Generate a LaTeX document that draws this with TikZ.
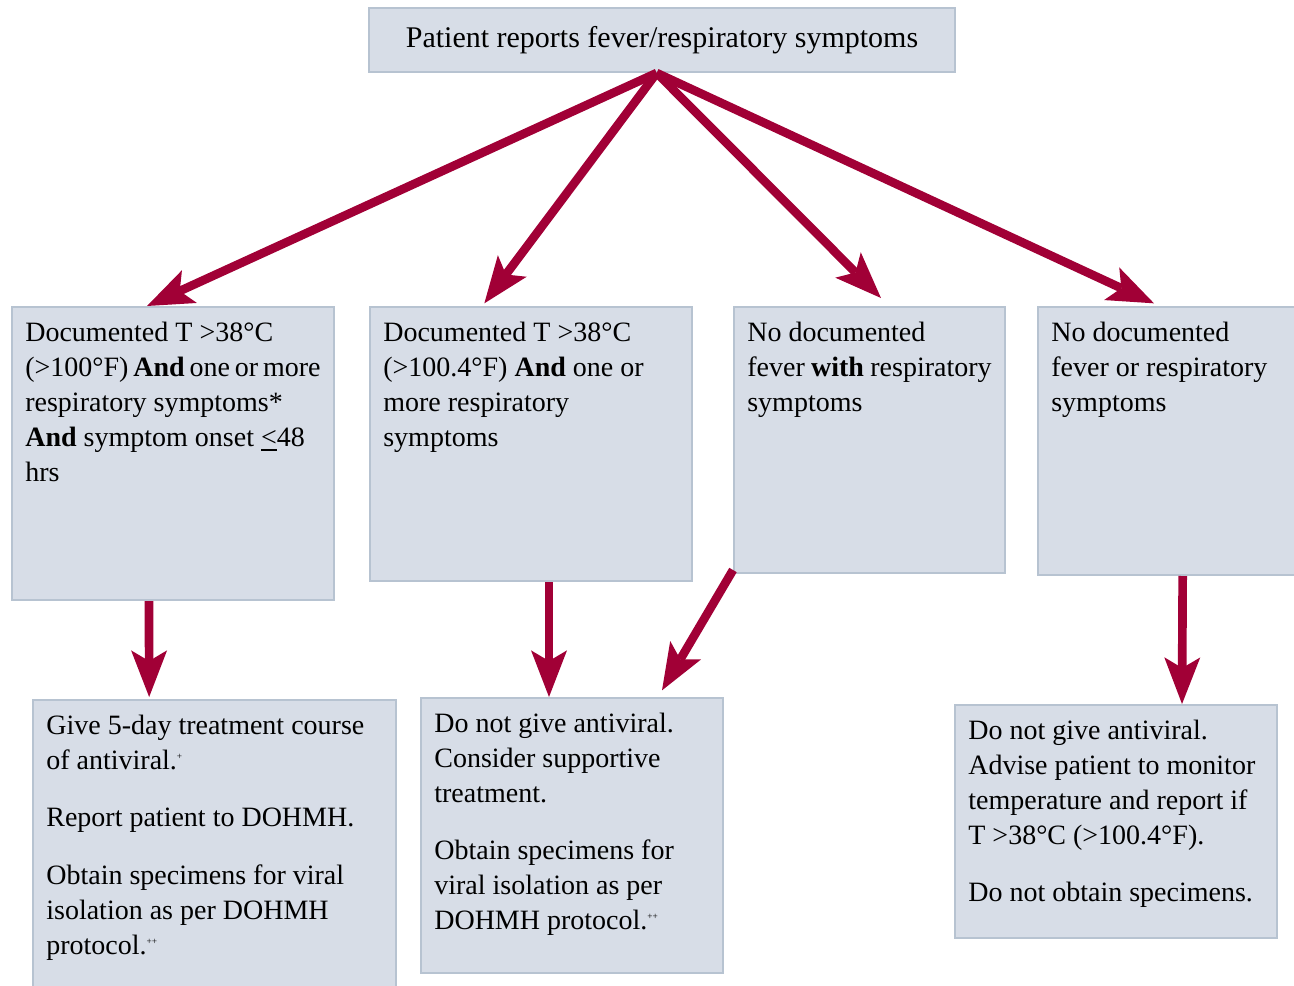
\documentclass[tikz,border=0pt]{standalone}
\usepackage{fontspec}
\setmainfont{Liberation Serif}
\usepackage{amsmath,amssymb}
\usetikzlibrary{arrows.meta}

\definecolor{boxfill}{RGB}{215,221,231}
\definecolor{boxline}{RGB}{183,195,209}
\definecolor{arrowred}{RGB}{161,0,54}

\tikzset{
  box/.style={draw=boxline, fill=boxfill, line width=1.5pt, anchor=north west,
    inner xsep=10pt, inner ysep=11pt, font=\fontsize{21pt}{26.25pt}\selectfont},
  flow/.style={draw=arrowred, line width=6.5pt,
    -{Stealth[length=35pt,width=27pt,inset=8pt,line width=0pt]}}
}
\newcommand{\cellbody}[3]{\parbox[t][#2][t]{#1}{#3}}
\newcommand{\blockgap}{\par\vspace{17pt}}
\newcommand{\fnmark}[1]{\textsuperscript{\scriptsize #1}}

\begin{document}
\begin{tikzpicture}[x=0.75pt,y=0.75pt,yscale=-1,xscale=1]
\useasboundingbox (0,0) rectangle (1294,985);
\clip (0,0) rectangle (1294,985);

% Text Node
\node (top) [box, minimum width=439.5pt, minimum height=48pt, inner sep=0pt, font=\fontsize{22.5pt}{27pt}\selectfont] at (368,7) {Patient reports fever/respiratory symptoms};

% Text Node
\node (b1) [box] at (11,306) {\cellbody{221.5pt}{197.75pt}{Documented T >38°C\\ (>100°F) \textbf{And} one or more\\ respiratory symptoms*\\ \textbf{And} symptom onset \underline{<}48\\ hrs}};
% Text Node
\node (b2) [box] at (369,306) {\cellbody{221.5pt}{183.5pt}{Documented T >38°C\\ (>100.4°F) \textbf{And} one or\\ more respiratory\\ symptoms}};
% Text Node
\node (b3) [box] at (733,306) {\cellbody{183.25pt}{177.5pt}{No documented\\ fever \textbf{with} respiratory\\ symptoms}};
% Text Node
\node (b4) [box] at (1037,306) {\cellbody{175pt}{179pt}{No documented\\ fever or respiratory\\ symptoms}};

% Text Node
\node (c1) [box] at (32,699) {\cellbody{252.25pt}{203pt}{Give 5-day treatment course\\ of antiviral.\fnmark{+}\blockgap Report patient to DOHMH.\blockgap Obtain specimens for viral\\ isolation as per DOHMH\\ protocol.\fnmark{++}}};
% Text Node
\node (c2) [box] at (420,697) {\cellbody{206.5pt}{184.25pt}{Do not give antiviral.\\ Consider supportive\\ treatment.\blockgap Obtain specimens for\\ viral isolation as per\\ DOHMH protocol.\fnmark{++}}};
% Text Node
\node (c3) [box] at (954,704) {\cellbody{221.5pt}{152.75pt}{Do not give antiviral.\\ Advise patient to monitor\\ temperature and report if\\ T >38°C (>100.4°F).\blockgap Do not obtain specimens.}};

% Connection
\draw [flow] ([xshift=-4pt]top.south) -- ([xshift=-19.5pt]b1.north);
\draw [flow] ([xshift=-4pt]top.south) -- ([xshift=-35pt,yshift=-2pt]b2.north);
\draw [flow] ([xshift=-4pt]top.south) -- ([xshift=8.6pt,yshift=-6pt]b3.north);
\draw [flow] ([xshift=-4pt]top.south) -- ([xshift=-10.5pt,yshift=-2pt]b4.north);

% Connection
\draw [flow] ([xshift=-18pt]b1.south) -- ([xshift=-49pt,yshift=-1.5pt]c1.north);
\draw [flow] ([xshift=13.5pt]b2.south) -- ([xshift=-17.25pt]c2.north);
\draw [flow] ([yshift=-3pt]b3.south west) -- ([xshift=-46.5pt,yshift=-5pt]c2.north east);
\draw [flow] ([xshift=11pt]b4.south) -- ([xshift=49.5pt]c3.north);

\end{tikzpicture}
\end{document}
